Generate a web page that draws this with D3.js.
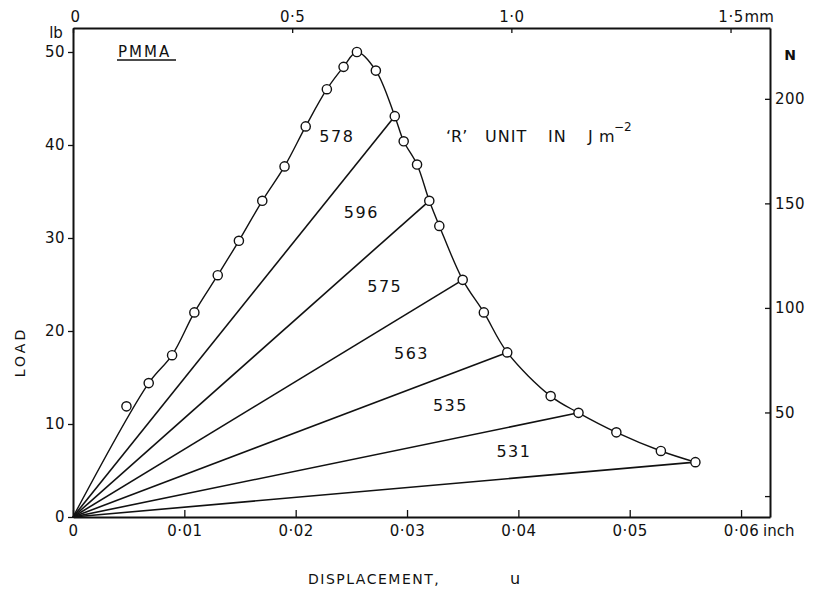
<!DOCTYPE html>
<html>
<head>
<meta charset="utf-8">
<script src="https://cdn.jsdelivr.net/npm/d3@7"></script>
<style>
  body { margin: 0; background: #fff; }
  svg text { font-family: "DejaVu Sans", sans-serif; fill: #111; }
  .axis path, .axis line { stroke: #111; }
  .axis text { font-size: 15px; letter-spacing: 0.5px; }
</style>
</head>
<body>
<div id="chart"></div>
<script>
// displacement (inch) and load (lb) of the measured points
var disp = [0.0048, 0.0068, 0.0089, 0.0109, 0.0130, 0.0149, 0.0170, 0.0190, 0.0209, 0.0228,
            0.0243, 0.0255, 0.0272, 0.0289, 0.0297, 0.0309, 0.0320, 0.0329, 0.0350, 0.0369,
            0.0390, 0.0429, 0.0454, 0.0488, 0.0528, 0.0559];
var load = [11.9, 14.4, 17.4, 22.0, 26.0, 29.7, 34.0, 37.7, 42.0, 46.0,
            48.4, 50.0, 48.0, 43.1, 40.4, 37.9, 34.0, 31.3, 25.5, 22.0,
            17.7, 13.0, 11.2, 9.1, 7.1, 5.9];
// points where an unloading line goes back to the origin
var unloadIdx = [13, 16, 18, 20, 22, 25];
// R values written between the lines, with where they sit (inch, lb)
var rValues = ["578", "596", "575", "563", "535", "531"];
var rX = [0.0237, 0.0259, 0.0280, 0.0304, 0.0339, 0.0396];
var rY = [40.9, 32.8, 24.8, 17.6, 12.0, 7.0];

var inchTicks = [0, 0.01, 0.02, 0.03, 0.04, 0.05, 0.06];
var lbTicks = [0, 10, 20, 30, 40, 50];
var mmTicks = [0, 0.5, 1.0, 1.5];
var nTicks = [10, 50, 100, 150, 200];

var width = 815, height = 591;
var svg = d3.select("#chart").append("svg")
    .attr("width", width)
    .attr("height", height);

var xMax = 0.0626, yMax = 52.58;
var x = d3.scaleLinear().domain([0, xMax]).range([73, 770]);
var y = d3.scaleLinear().domain([0, yMax]).range([517, 28]);
var xmm = d3.scaleLinear().domain([0, xMax * 25.4]).range([73, 770]);
var yN = d3.scaleLinear().domain([0, yMax * 4.448]).range([517, 28]);

function dot(d, n) {
    return d === 0 ? "0" : d3.format("." + n + "f")(d).replace(".", "\u00b7");
}

// axes
var gx = svg.append("g").attr("class", "axis")
    .attr("transform", "translate(0,517)")
    .call(d3.axisBottom(x).tickValues(inchTicks).tickSizeInner(-7).tickSizeOuter(0)
        .tickPadding(8).tickFormat(function(d) { return dot(d, 2); }));
var gy = svg.append("g").attr("class", "axis")
    .attr("transform", "translate(73,0)")
    .call(d3.axisLeft(y).tickValues(lbTicks).tickSizeInner(5).tickSizeOuter(0)
        .tickPadding(3).tickFormat(d3.format("d")));
var gt = svg.append("g").attr("class", "axis")
    .attr("transform", "translate(0,28)")
    .call(d3.axisTop(xmm).tickValues(mmTicks).tickSizeInner(-5).tickSizeOuter(0)
        .tickPadding(6).tickFormat(function(d) { return dot(d, 1); }));
var gr = svg.append("g").attr("class", "axis")
    .attr("transform", "translate(770,0)")
    .call(d3.axisRight(yN).tickValues(nTicks).tickSizeInner(-5).tickSizeOuter(0)
        .tickPadding(5).tickFormat(function(d) { return d === 10 ? "" : d; }));

svg.selectAll(".axis path.domain").attr("stroke-width", 2);
svg.selectAll(".axis .tick line").attr("stroke-width", 1.3);
gt.selectAll(".tick text").filter(function(d) { return d === 0; }).attr("dx", 2);

// unit labels on the axes
svg.append("text").attr("x", x(0.06) + 22).attr("y", 536).attr("font-size", 15).text("inch");
svg.append("text").attr("x", xmm(1.5) + 14).attr("y", 22).attr("font-size", 15).text("mm");
svg.append("text").attr("x", 56).attr("y", 38).attr("font-size", 15)
    .attr("text-anchor", "middle").text("lb");
svg.append("text").attr("x", 790).attr("y", 60).attr("font-size", 14)
    .attr("text-anchor", "middle").attr("font-weight", "bold").text("N");

svg.append("text")
    .attr("transform", "translate(25,352) rotate(-90)")
    .attr("text-anchor", "middle").attr("font-size", 14).attr("letter-spacing", 3)
    .text("LOAD");
svg.append("text").attr("x", 308).attr("y", 584).attr("font-size", 14)
    .attr("letter-spacing", 1.5).text("DISPLACEMENT,");
svg.append("text").attr("x", 510).attr("y", 584).attr("font-size", 16).text("u");

// unloading lines
var pts = disp.map(function(d, i) { return [d, load[i]]; });
svg.selectAll(".unload").data(unloadIdx).enter().append("line")
    .attr("class", "unload")
    .attr("x1", x(0)).attr("y1", y(0))
    .attr("x2", function(i) { return x(disp[i]); })
    .attr("y2", function(i) { return y(load[i]); })
    .attr("stroke", "#111").attr("stroke-width", 1.6);

// loading curve, from the origin through all points but the first
var curvePts = [[0, 0]].concat(pts.slice(1));
var line = d3.line()
    .x(function(d) { return x(d[0]); })
    .y(function(d) { return y(d[1]); })
    .curve(d3.curveCatmullRom.alpha(0.5));
svg.append("path").datum(curvePts)
    .attr("d", line).attr("fill", "none")
    .attr("stroke", "#111").attr("stroke-width", 1.4);

svg.selectAll(".pt").data(pts).enter().append("circle")
    .attr("class", "pt")
    .attr("cx", function(d) { return x(d[0]); })
    .attr("cy", function(d) { return y(d[1]); })
    .attr("r", 4.6)
    .attr("fill", "#fff").attr("stroke", "#111").attr("stroke-width", 1.4);

svg.selectAll(".rlab").data(rValues).enter().append("text")
    .attr("class", "rlab")
    .attr("x", function(d, i) { return x(rX[i]); })
    .attr("y", function(d, i) { return y(rY[i]); })
    .attr("dy", "0.35em").attr("text-anchor", "middle")
    .attr("font-size", 16).attr("letter-spacing", 1.5)
    .text(function(d) { return d; });

// notes
svg.append("text").attr("x", 118).attr("y", 57).attr("font-size", 15)
    .attr("letter-spacing", 2).text("PMMA");
svg.append("line").attr("x1", 117).attr("x2", 176).attr("y1", 60).attr("y2", 60)
    .attr("stroke", "#111").attr("stroke-width", 1.5);

var note = svg.append("g").attr("font-size", 16);
note.append("text").attr("x", 446).attr("y", 142).text("\u2018R\u2019");
note.append("text").attr("x", 485).attr("y", 142).attr("letter-spacing", 1).text("UNIT");
note.append("text").attr("x", 548).attr("y", 142).attr("letter-spacing", 1).text("IN");
note.append("text").attr("x", 588).attr("y", 142).text("J");
note.append("text").attr("x", 599).attr("y", 142).text("m");
note.append("text").attr("x", 614).attr("y", 131).attr("font-size", 12).text("\u22122");
</script>
</body>
</html>
